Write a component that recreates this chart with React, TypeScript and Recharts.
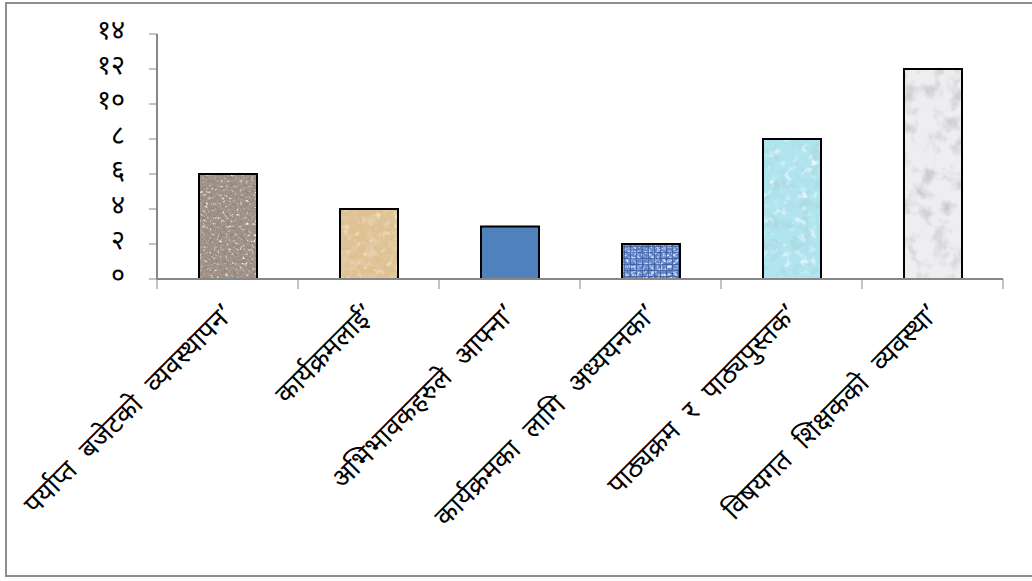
import { BarChart, Bar, XAxis, YAxis } from 'recharts'

const categories = [
  'पर्याप्त बजेटको व्यवस्थापन’',
  'कार्यक्रमलाई’',
  'अभिभावकहरुले आफ्ना’',
  'कार्यक्रमका लागि अध्ययनका’',
  'पाठ्यक्रम र पाठ्यपुस्तक’',
  'विषयगत शिक्षकको व्यवस्था’'
]
const counts = [6, 4, 3, 2, 8, 12]
const yTicks = [0, 2, 4, 6, 8, 10, 12, 14]
const yTickLabels = ['०', '२', '४', '६', '८', '१०', '१२', '१४']

const data = categories.map((name, i) => ({ name, value: counts[i] }))

const FONT = '"Noto Sans Devanagari", "Noto Sans", sans-serif'
const AXIS = '#878787'
const W = 1032
const H = 581
const M = { top: 34, right: 29, left: 97, bottom: 12 }
const Y_W = 60
const HALF_BAND = (W - M.left - M.right - Y_W) / categories.length / 2

// texture per bar: base colour + noise layers
type Layer = { color: [number, number, number]; freq: number; k: number; b: number; seed: number }
const textures: { base: string; layers: Layer[]; grid?: boolean }[] = [
  {
    base: '#a3958a',
    layers: [
      { color: [0.3, 0.25, 0.22], freq: 0.3, k: 3.6, b: -1.45, seed: 2 },
      { color: [0.92, 0.9, 0.87], freq: 0.35, k: -3.6, b: 1.5, seed: 7 }
    ]
  },
  {
    base: '#dfc293',
    layers: [
      { color: [0.78, 0.64, 0.45], freq: 0.12, k: 2.4, b: -1.1, seed: 4 },
      { color: [0.95, 0.87, 0.72], freq: 0.16, k: -2.4, b: 1.0, seed: 9 }
    ]
  },
  { base: '#4f81bd', layers: [] },
  {
    base: '#5f82c6',
    grid: true,
    layers: [{ color: [0.7, 0.8, 0.98], freq: 0.35, k: 3, b: -1.3, seed: 5 }]
  },
  {
    base: '#b0e5f0',
    layers: [
      { color: [0.42, 0.7, 0.78], freq: 0.1, k: 3.2, b: -1.45, seed: 11 },
      { color: [0.85, 0.97, 1], freq: 0.12, k: -3, b: 1.3, seed: 6 }
    ]
  },
  {
    base: '#eeeef0',
    layers: [{ color: [0.55, 0.55, 0.58], freq: 0.06, k: 2.4, b: -1.15, seed: 3 }]
  }
]

const Defs = () => (
  <defs>
    {textures.map((t, i) =>
      t.layers.map((l, j) => (
        <filter key={`${i}-${j}`} id={`tex${i}-${j}`} x="0" y="0" width="1" height="1">
          <feTurbulence type="fractalNoise" baseFrequency={l.freq} numOctaves={3} seed={l.seed} />
          <feColorMatrix
            type="matrix"
            values={`0 0 0 0 ${l.color[0]}  0 0 0 0 ${l.color[1]}  0 0 0 0 ${l.color[2]}  ${l.k} 0 0 0 ${l.b}`}
          />
        </filter>
      ))
    )}
    <pattern id="gridPat" width="6" height="6" patternUnits="userSpaceOnUse">
      <path d="M0 0.5H6M0.5 0V6" stroke="#34559a" strokeWidth="1" fill="none" />
    </pattern>
  </defs>
)

const TexturedBar = (props: any) => {
  const { x, y, width, height, index } = props
  const t = textures[index]
  return (
    <g>
      <rect x={x} y={y} width={width} height={height} fill={t.base} />
      {t.layers.map((_, j) => (
        <rect key={j} x={x} y={y} width={width} height={height} fill="#000" filter={`url(#tex${index}-${j})`} />
      ))}
      {t.grid && <rect x={x} y={y} width={width} height={height} fill="url(#gridPat)" opacity={0.7} />}
      <rect x={x} y={y} width={width} height={height} fill="none" stroke="#000" strokeWidth={2} />
    </g>
  )
}

const XTick = (props: any) => {
  const { x, y, payload, index } = props
  const last = index === categories.length - 1
  return (
    <g>
      <line x1={x - HALF_BAND} y1={y} x2={x - HALF_BAND} y2={y + 10} stroke={AXIS} />
      {last && <line x1={x + HALF_BAND} y1={y} x2={x + HALF_BAND} y2={y + 10} stroke={AXIS} />}
      <text
        transform={`translate(${x + 8},${y + 36}) rotate(-45)`}
        textAnchor="end"
        fontSize={27}
        fontFamily={FONT}
        fill="#000"
        style={{ wordSpacing: 9 }}
      >
        {payload.value}
      </text>
    </g>
  )
}

const YTick = (props: any) => {
  const { x, y, payload } = props
  const i = yTicks.indexOf(payload.value)
  return (
    <text x={x} y={y} dy={5} textAnchor="end" fontSize={27} fontFamily={FONT} fill="#000">
      {yTickLabels[i]}
    </text>
  )
}

export default function App() {
  return (
    <div style={{ position: 'fixed', left: 0, top: 0, width: W, height: H, background: '#fff', overflow: 'hidden' }}>
      <div
        style={{
          position: 'absolute',
          left: 5,
          top: 2,
          width: W + 20,
          height: H - 6,
          border: '2px solid #8e8e8e',
          boxSizing: 'border-box'
        }}
      />
      <BarChart width={W} height={H} data={data} margin={M} style={{ position: 'absolute', left: 0, top: 0 }}>
        <Defs />
        <XAxis
          dataKey="name"
          interval={0}
          height={H - M.top - M.bottom - 245}
          tick={<XTick />}
          tickLine={false}
          tickSize={0}
          tickMargin={0}
          axisLine={{ stroke: AXIS, strokeWidth: 2 }}
        />
        <YAxis
          width={Y_W}
          domain={[0, 14]}
          ticks={yTicks}
          interval={0}
          tickSize={8}
          tickMargin={24}
          tick={<YTick />}
          tickLine={{ stroke: AXIS }}
          axisLine={{ stroke: AXIS, strokeWidth: 2 }}
        />
        <Bar dataKey="value" barSize={58} shape={<TexturedBar />} isAnimationActive={false} />
      </BarChart>
    </div>
  )
}
